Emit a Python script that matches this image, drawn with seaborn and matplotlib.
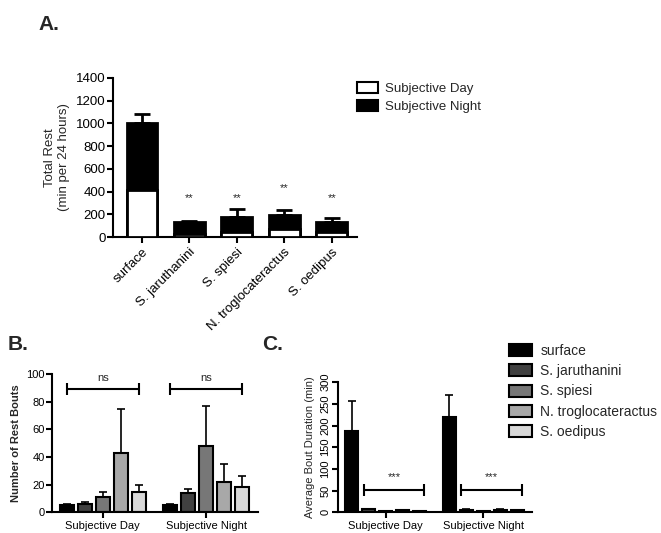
import pandas as pd
import matplotlib.pyplot as plt
import seaborn as sns
from matplotlib.patches import Patch

# --- data ---
species = ["surface", "S. jaruthanini", "S. spiesi", "N. troglocateractus", "S. oedipus"]
periods = ["Subjective Day", "Subjective Night"]

# A: total rest per 24h (stacked day + night)
rest_day = [415, 30, 45, 75, 45]
rest_total = [1005, 135, 180, 195, 135]
rest_total_err = [80, 10, 65, 45, 30]
rest_stars = ["", "**", "**", "**", "**"]
rest_star_y = [0, 340, 340, 430, 340]

# B: number of rest bouts
bouts_day = [5, 6, 11, 43, 15]
bouts_day_err = [0.8, 1.2, 3.5, 32, 5]
bouts_night = [5, 14, 48, 22, 18]
bouts_night_err = [1.2, 3, 29, 13, 8]

# C: average bout duration (min)
dur_day = [187, 7, 2, 4, 3]
dur_day_err = [70, 1, 0.5, 1, 0.5]
dur_night = [220, 6, 2, 6, 5]
dur_night_err = [50, 1, 0.5, 1.5, 1]

colors = ["#000000", "#404040", "#777777", "#a8a8a8", "#d8d8d8"]

sns.set_theme(style="ticks")
plt.rcParams["font.family"] = ["Liberation Sans", "DejaVu Sans"]
plt.rcParams["axes.linewidth"] = 1.5
plt.rcParams["xtick.major.width"] = 1.5
plt.rcParams["ytick.major.width"] = 1.5
plt.rcParams["xtick.major.size"] = 4
plt.rcParams["ytick.major.size"] = 4
plt.rcParams["ytick.major.pad"] = 1.5
plt.rcParams["xtick.major.pad"] = 2.5
plt.rcParams["xtick.color"] = "black"
plt.rcParams["ytick.color"] = "black"
plt.rcParams["axes.edgecolor"] = "black"

fig = plt.figure(figsize=(6.61, 5.33), dpi=100)


def up_errors(ax, xs, tops, errs, lw=1.5, cap=4):
    ax.errorbar(xs, tops, yerr=[[0] * len(errs), errs], fmt="none",
                ecolor="black", elinewidth=lw, capsize=cap, capthick=lw, zorder=1)


# --- A. total rest ---
axA = fig.add_axes([0.171, 0.555, 0.369, 0.299])
dfA = pd.DataFrame({"species": species, "total": rest_total, "day": rest_day})
sns.barplot(data=dfA, x="species", y="total", color="black", width=0.65,
            edgecolor="black", linewidth=2, ax=axA, zorder=2)
sns.barplot(data=dfA, x="species", y="day", color="white", width=0.65,
            edgecolor="black", linewidth=2, ax=axA, zorder=3)
xsA = [p.get_x() + p.get_width() / 2 for p in axA.containers[0]]
up_errors(axA, xsA, rest_total, rest_total_err, lw=2, cap=6)
for x, y, s in zip(xsA, rest_star_y, rest_stars):
    if s:
        axA.text(x, y, s, ha="center", va="center", fontsize=8)
axA.set_ylim(0, 1400)
axA.set_yticks(range(0, 1401, 200))
axA.set_xlim(-0.61, 4.53)
axA.set_xlabel("")
axA.set_ylabel("Total Rest\n(min per 24 hours)", fontsize=9.5)
axA.tick_params(axis="both", labelsize=9.5)
plt.setp(axA.get_xticklabels(), rotation=45, ha="right", rotation_mode="anchor")
sns.despine(ax=axA)
fig.legend(handles=[Patch(facecolor="white", edgecolor="black", linewidth=1.5, label=periods[0]),
                    Patch(facecolor="black", edgecolor="black", linewidth=1.5, label=periods[1])],
           loc="upper left", bbox_to_anchor=(0.540, 0.846), frameon=False, fontsize=9.5,
           borderpad=0, borderaxespad=0,
           handlelength=1.6, handleheight=0.9, handletextpad=0.55, labelspacing=0.4)
fig.text(0.058, 0.972, "A.", fontsize=15, fontweight="bold", va="top")


def grouped(ax, day, night, day_err, night_err):
    df = pd.DataFrame({
        "period": [periods[0]] * len(species) + [periods[1]] * len(species),
        "species": species * 2,
        "value": day + night,
    })
    sns.barplot(data=df, x="period", y="value", hue="species", hue_order=species,
                palette=colors, width=0.87, gap=0.22, edgecolor="black", linewidth=1.5,
                legend=False, ax=ax, zorder=2)
    errs = [day_err, night_err]
    vals = [day, night]
    centers = [[], []]
    bars = list(ax.containers)
    for i, cont in enumerate(bars):
        for j, p in enumerate(cont):
            x = p.get_x() + p.get_width() / 2
            centers[j].append(x)
            up_errors(ax, [x], [vals[j][i]], [errs[j][i]], lw=1.2, cap=3)
    ax.set_xlim(-0.49, 1.5)
    ax.set_xlabel("")
    sns.despine(ax=ax)
    return centers


def bracket(ax, x1, x2, y, text, ty):
    ax.plot([x1, x2], [y, y], color="black", lw=1.5, marker="|", markersize=9, mew=1.5)
    ax.text((x1 + x2) / 2, ty, text, ha="center", va="center", fontsize=8)


# --- B. number of rest bouts ---
axB = fig.add_axes([0.079, 0.039, 0.311, 0.259])
cB = grouped(axB, bouts_day, bouts_night, bouts_day_err, bouts_night_err)
axB.set_ylim(0, 100)
axB.set_yticks(range(0, 101, 20))
axB.set_ylabel("Number of Rest Bouts", fontsize=8, fontweight="bold")
axB.tick_params(axis="both", labelsize=8)
for c in cB:
    bracket(axB, c[0], c[-1], 89, "ns", 97)
fig.text(0.012, 0.372, "B.", fontsize=15, fontweight="bold", va="top")

# --- C. average bout duration ---
axC = fig.add_axes([0.511, 0.039, 0.294, 0.244])
cC = grouped(axC, dur_day, dur_night, dur_day_err, dur_night_err)
axC.set_ylim(0, 300)
axC.set_yticks(range(0, 301, 50))
axC.set_ylabel("Average Bout Duration (min)", fontsize=8)
axC.tick_params(axis="both", labelsize=8)
plt.setp(axC.get_yticklabels(), rotation=90, va="center")
for c in cC:
    bracket(axC, c[1] - 0.05, c[-1] + 0.05, 52, "***", 82)
fig.text(0.396, 0.372, "C.", fontsize=15, fontweight="bold", va="top")

fig.legend(handles=[Patch(facecolor=col, edgecolor="black", linewidth=1.5, label=s)
                    for col, s in zip(colors, species)],
           loc="upper left", bbox_to_anchor=(0.770, 0.355), frameon=False, fontsize=10,
           borderpad=0, borderaxespad=0,
           handlelength=1.65, handleheight=0.95, handletextpad=0.6, labelspacing=0.45)

fig.savefig("out.png", dpi=100)
